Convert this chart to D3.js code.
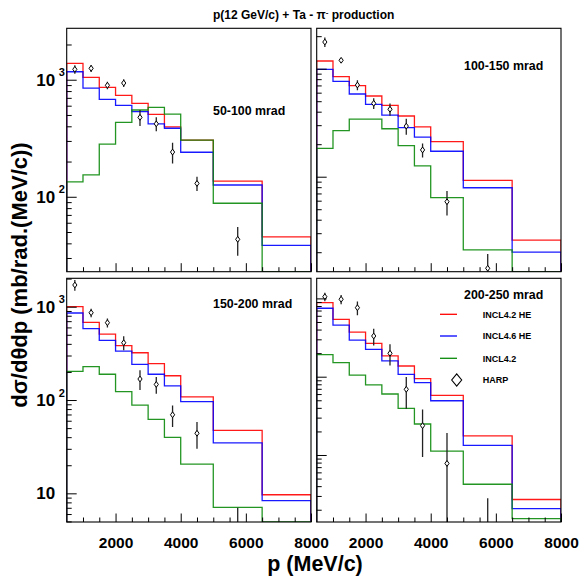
<!DOCTYPE html>
<html><head><meta charset="utf-8">
<script src="https://cdn.jsdelivr.net/npm/d3@7"></script>
<style>
body{margin:0;background:#fff}
text{font-family:"Liberation Sans",Arial,Helvetica,sans-serif}
</style>
</head><body>
<svg id="c" width="582" height="576"></svg>
<script>
// ---------- data ----------
const binEdges = [500,1000,1500,2000,2500,3000,3500,4000,5000,6500,8000];
const harpP    = [750,1250,1750,2250,2750,3250,3750,4500,5750];

const panelLabels = ["50-100 mrad","100-150 mrad","150-200 mrad","200-250 mrad"];
const seriesNames = ["INCL4.2 HE","INCL4.6 HE","INCL4.2","HARP"];

// 50-100 mrad
const red50   = [1380,1048,861,736,629,506,396,305,136,45.5];
const blue50  = [1170,849,680,604,533,420,385,240,126,38.5];
const green50 = [134,154,282,432,551,581,509,305,88,15];
const harp50  = [1227,1251,896,937,477,420,241,130,43.3];
const err50   = [105,85,65,70,74,57,49,18,12];
// 100-150 mrad
const red100   = [1178,843,697,559,458,365,289,211,92.6,25.9];
const blue100  = [987,764,583,468,372,285,233,172,79,20];
const green100 = [183,267,342,342,278,194,126,64,21,8];
const harp100  = [1766,1196,706,478,421,294,177,58.7,14.2];
const err100   = [180,60,75,55,55,50,26,15,5];
// 150-200 mrad
const red150   = [1000,681,509,382,321,245,182,108,47.3,9.66];
const blue150  = [856,581,436,335,241,189,142,96,34.8,8.34];
const green150 = [203,228,189,123,88,62,39.8,20.6,7.08,3];
const harp150  = [1709,862,674,411,168,147,69.5,44,3];
const err150   = [230,90,75,70,40,30,18,14,4];
// 200-250 mrad
const red200   = [881,541,372,267,184,137,94.3,57.8,17.5,2.70];
const blue200  = [748,457,294,224,159,107,83.8,49.3,13.3,2.06];
const green200 = [191,151,105,78.4,60.1,39.5,24.9,11.2,4.23,1.54];
const harp200  = [1051,975,761,331,199,69,23.7,7.8,0.8];
const err200   = [130,130,150,80,60,30,14.3,11.3,2.0];

// axis ranges
const xRange = [500, 8000];
const yRanges = [[22.9,2750],[13.2,2366],[4.93,2016],[1.394,1806]];
const xMajorTicks = [2000,4000,6000,8000];
const xMinorTicks = [1000,1500,2500,3000,3500,4500,5000,5500,6500,7000,7500];

// ---------- layout ----------
const frames = [
  {x0:66.7, x1:311, y0:28.3, y1:271.7, ylab:true,  xlab:false},
  {x0:316.7,x1:561, y0:28.3, y1:271.7, ylab:false, xlab:false},
  {x0:66.7, x1:311, y0:278.3,y1:522,   ylab:true,  xlab:true},
  {x0:316.7,x1:561, y0:278.3,y1:522,   ylab:false, xlab:true}
];
const labelPos = [[213,115],[464,69.5],[213,307.8],[464,298.5]];
const colors = {red:"#ff0000", blue:"#0000ff", green:"#0a8a0a"};

const panels = [
  {red:red50, blue:blue50, green:green50, harp:harp50, err:err50},
  {red:red100,blue:blue100,green:green100,harp:harp100,err:err100},
  {red:red150,blue:blue150,green:green150,harp:harp150,err:err150},
  {red:red200,blue:blue200,green:green200,harp:harp200,err:err200}
];

const svg = d3.select("#c");

function diamond(cx, cy, hw, hh){
  return `M${cx},${cy-hh}L${cx+hw},${cy}L${cx},${cy+hh}L${cx-hw},${cy}Z`;
}

panels.forEach((p, i) => {
  const f = frames[i];
  const x = d3.scaleLinear().domain(xRange).range([f.x0, f.x1]);
  const y = d3.scaleLog().domain(yRanges[i]).range([f.y1, f.y0]).clamp(true);
  const g = svg.append("g");
  const cid = "clip" + i;
  svg.append("clipPath").attr("id", cid).append("rect")
    .attr("x", f.x0).attr("y", f.y0).attr("width", f.x1 - f.x0).attr("height", f.y1 - f.y0);
  const plot = g.append("g").attr("clip-path", `url(#${cid})`);

  // histograms
  ["red","blue","green"].forEach(s => {
    const vals = p[s];
    const pts = [[binEdges[0], yRanges[i][0]]];
    vals.forEach((v, k) => { pts.push([binEdges[k], v]); pts.push([binEdges[k+1], v]); });
    pts.push([binEdges[binEdges.length-1], yRanges[i][0]]);
    const line = d3.line().x(d => x(d[0])).y(d => y(d[1]));
    plot.append("path").attr("d", line(pts)).attr("fill","none")
      .attr("stroke", colors[s]).attr("stroke-width", 1.3).attr("stroke-opacity", 0.9);
  });

  // HARP points
  p.harp.forEach((v, k) => {
    const px = x(harpP[k]);
    const hi = v + p.err[k];
    const lo = Math.max(v - p.err[k], yRanges[i][0] * 0.1);
    plot.append("line").attr("x1", px).attr("x2", px)
      .attr("y1", y(hi)).attr("y2", y(lo))
      .attr("stroke", "#222").attr("stroke-width", 1.3);
    if (v >= yRanges[i][0]) {
      plot.append("path").attr("d", diamond(px, y(v), 2.1, 2.9))
        .attr("fill","#fff").attr("stroke","#000").attr("stroke-width",1);
    }
  });

  // axes: x
  const xMaj = d3.axisBottom(x).tickValues(xMajorTicks).tickSizeInner(-8.5).tickSizeOuter(0)
      .tickPadding(14.5).tickFormat(f.xlab ? d3.format("d") : () => "");
  const xMin = d3.axisBottom(x).tickValues(xMinorTicks).tickSizeInner(-4.5).tickSizeOuter(0).tickFormat(() => "");
  const gx = g.append("g").attr("transform", `translate(0,${f.y1})`).call(xMaj);
  g.append("g").attr("transform", `translate(0,${f.y1})`).call(xMin);
  gx.selectAll("text").attr("font-size", 15.5).attr("font-weight", "bold").attr("fill","#000")
    .attr("font-family", "'Liberation Sans', Arial, sans-serif");

  // axes: y (log)
  const [ymin, ymax] = yRanges[i];
  const majors = [], minors = [];
  for (let e = Math.floor(Math.log10(ymin)); e <= Math.ceil(Math.log10(ymax)); e++) {
    for (let m = 1; m <= 9; m++) {
      const v = m * Math.pow(10, e);
      if (v >= ymin && v <= ymax) (m === 1 ? majors : minors).push(v);
    }
  }
  const yMaj = d3.axisLeft(y).tickValues(majors).tickSizeInner(-10).tickSizeOuter(0).tickFormat(() => "");
  const yMin = d3.axisLeft(y).tickValues(minors).tickSizeInner(-5).tickSizeOuter(0).tickFormat(() => "");
  g.append("g").attr("transform", `translate(${f.x0},0)`).call(yMaj);
  g.append("g").attr("transform", `translate(${f.x0},0)`).call(yMin);
  g.selectAll(".domain").remove();
  g.selectAll(".tick line").attr("stroke", "#000").attr("stroke-width", 1);

  if (f.ylab) {
    majors.forEach(v => {
      const e = Math.round(Math.log10(v));
      const ty = y(v);
      g.append("text").attr("x", f.x0 - 11.5).attr("y", ty + 6)
        .attr("text-anchor", "end").attr("font-size", 17).attr("font-weight", "bold").text("10");
      if (e !== 1) {
        g.append("text").attr("x", f.x0 - 8).attr("y", ty - 3.5)
          .attr("font-size", 11).attr("font-weight", "bold").text(String(e));
      }
    });
  }

  // frame
  g.append("rect").attr("x", f.x0).attr("y", f.y0).attr("width", f.x1 - f.x0).attr("height", f.y1 - f.y0)
    .attr("fill", "none").attr("stroke", "#000").attr("stroke-width", 1.1);

  // panel label
  g.append("text").attr("x", labelPos[i][0]).attr("y", labelPos[i][1])
    .attr("font-size", 12.4).attr("font-weight", "bold").text(panelLabels[i]);
});

// legend (in last panel)
const legY = [314.3, 336, 358.3, 380];
["red","blue","green"].forEach((s, k) => {
  svg.append("line").attr("x1", 440).attr("x2", 457).attr("y1", legY[k]).attr("y2", legY[k])
    .attr("stroke", colors[s]).attr("stroke-width", 1.3);
  svg.append("text").attr("x", 482.7).attr("y", legY[k] + 3.3).attr("font-size", 9)
    .attr("font-weight", "bold").text(seriesNames[k]);
});
svg.append("path").attr("d", diamond(456.7, legY[3], 5, 6.2)).attr("fill","#fff")
  .attr("stroke","#000").attr("stroke-width",1.1);
svg.append("text").attr("x", 482.7).attr("y", legY[3] + 3.3).attr("font-size", 9)
  .attr("font-weight", "bold").text(seriesNames[3]);

// title
const title = svg.append("text").attr("x", 213).attr("y", 19).attr("text-anchor","start")
  .attr("font-size", 12).attr("font-weight", "bold");
title.append("tspan").text("p(12 GeV/c) + Ta - π");
title.append("tspan").attr("dy", -4).attr("font-size", 8).text("-");
title.append("tspan").attr("dy", 4).text(" production");

// axis titles
svg.append("text").attr("x", 315).attr("y", 570.5).attr("text-anchor","middle")
  .attr("font-size", 21.5).attr("font-weight","bold").text("p (MeV/c)");
svg.append("text").attr("transform","translate(27,275) rotate(-90)").attr("text-anchor","middle")
  .attr("font-size", 22).attr("font-weight","bold").text("dσ/dθdp (mb/rad.(MeV/c))");
</script>
</body></html>
